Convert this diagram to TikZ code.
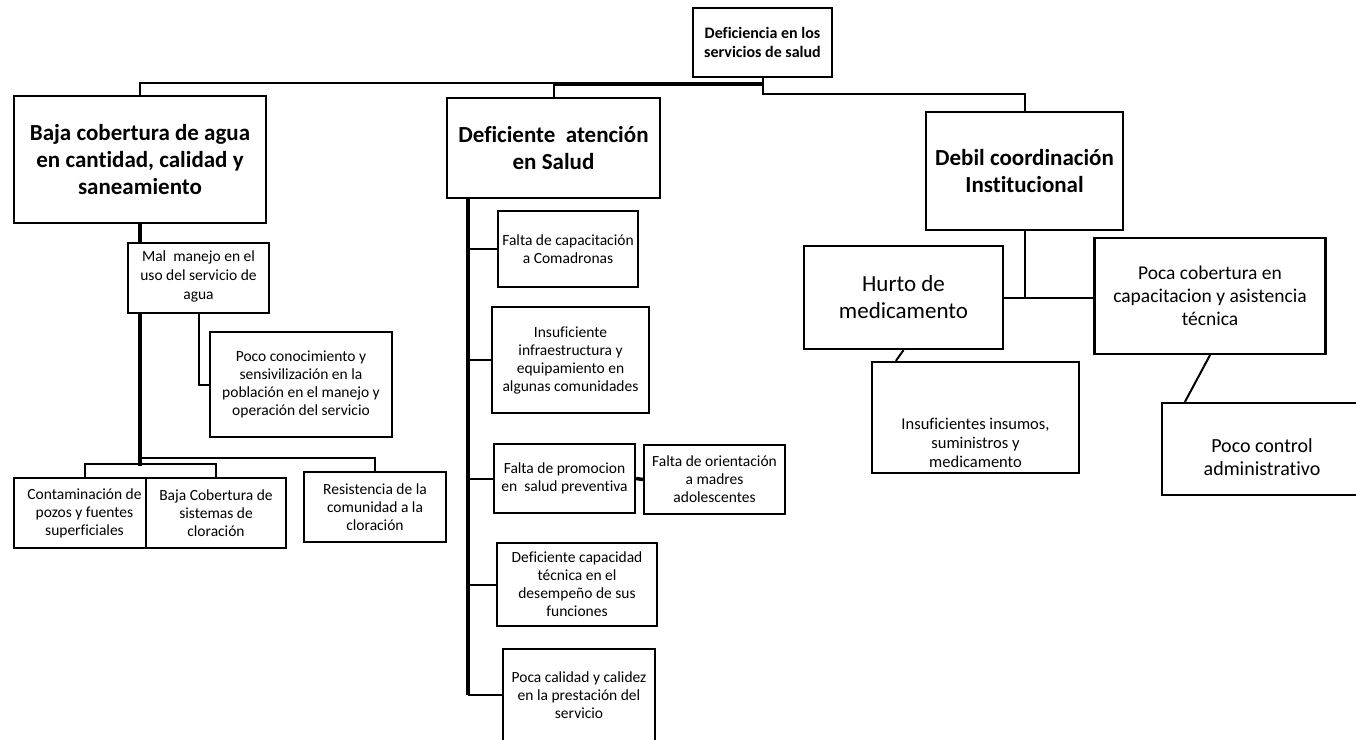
\documentclass[tikz,border=0pt]{standalone}
\usepackage{fontspec}
\setmainfont{Carlito}[Ligatures=NoCommon]
\usetikzlibrary{calc}
\begin{document}
\begin{tikzpicture}[x=1pt,y=-1pt,
  box/.style={draw, line width=2.2pt, fill=white, inner sep=0pt, align=center, font=\fontsize{15.5}{18}\selectfont},
  lbl/.style={inner sep=0pt, align=center},
  topbox/.style={box, font=\bfseries\fontsize{16}{19.5}\selectfont},
  title/.style={box, font=\bfseries\fontsize{23}{27}\selectfont},
  big/.style={box, font=\fontsize{23}{27}\selectfont},
  mid/.style={box, font=\fontsize{19.5}{23}\selectfont},
  conn/.style={line width=2pt},
  spine/.style={line width=3.5pt},
]
\useasboundingbox (0,0) rectangle (1356,739);

% top
\node[topbox, minimum width=139, minimum height=69] (top) at (762.5,42.5) {Deficiencia en los\\servicios de salud};

% level 1
\node[title, minimum width=252, minimum height=127] (baja) at (140,159.5) {Baja cobertura de agua\\en cantidad, calidad y\\saneamiento};
\node[title, minimum width=213, minimum height=100] (defi) at (553.5,148) {Deficiente\ \ atención\\en Salud};
\node[title, minimum width=197, minimum height=118] (debil) at (1024.5,171) {Debil coordinación\\Institucional};

% left branch
\node[box, minimum width=141, minimum height=70,
  label={[lbl, font=\fontsize{15.5}{19}\selectfont, yshift=2pt]center:{Mal\ \ manejo en el\\uso del servicio de\\agua}}] (mal) at (198.5,278) {};
\node[box, minimum width=182, minimum height=105] (poco) at (301,384.5) {Poco conocimiento y\\sensivilización en la\\población en el manejo y\\operación del servicio};
\node[box, minimum width=141, minimum height=70] (conta) at (84.5,513) {Contaminación de\\pozos y fuentes\\superficiales};
\node[box, minimum width=140, minimum height=70] (bajacob) at (216,513) {Baja Cobertura de\\sistemas de\\cloración};
\node[box, minimum width=142, minimum height=70] (resis) at (375,507) {Resistencia de la\\comunidad a la\\cloración};

% middle branch
\node[box, minimum width=140, minimum height=76] (falcap) at (568,249) {Falta de capacitación\\a Comadronas};
\node[box, minimum width=157, minimum height=106] (insuf) at (570.5,360) {Insuficiente\\infraestructura y\\equipamiento en\\algunas comunidades};
\node[box, minimum width=141, minimum height=69] (promo) at (564.5,478.5) {Falta de promocion\\en\ \ salud preventiva};
\node[box, minimum width=141, minimum height=69] (orient) at (714.5,479.5) {Falta de orientación\\a madres\\adolescentes};
\node[box, minimum width=160, minimum height=83] (defcap) at (577,584.5) {Deficiente capacidad\\técnica en el\\desempeño de sus\\funciones};
\node[box, minimum width=152, minimum height=92] (pocacal) at (579,695) {Poca calidad y calidez\\en la prestación del\\servicio};

% right branch
\node[big, minimum width=199, minimum height=103] (hurto) at (903.5,297.5) {Hurto de\\medicamento};
\node[mid, minimum width=231, minimum height=116] (pocacob) at (1210,296) {Poca cobertura en\\capacitacion y asistencia\\técnica};
\node[box, minimum width=207, minimum height=111,
  label={[lbl, font=\fontsize{16.5}{19}\selectfont, yshift=-25pt]center:{Insuficientes insumos,\\suministros y\\medicamento}}] (insumos) at (975.5,417.5) {};
\node[box, minimum width=200, minimum height=92,
  label={[lbl, font=\fontsize{20}{23}\selectfont, yshift=-8pt]center:{Poco control\\administrativo}}] (control) at (1262,449) {};

% connectors from top
\coordinate (tj) at ($(top.south)+(0,6)$);
\draw[conn] (top.south) -- ++(0,5) -| (baja.north);
\draw[spine] (tj) -- (tj -| defi.north);
\draw[conn] (tj -| defi.north) -- (defi.north);
\draw[conn] (top.south) -- ++(0,16) -| (debil.north);

% left connectors
\coordinate (ls) at (baja.south |- mal.south);
\draw[spine] (baja.south) -- (baja.south |- mal.north);
\draw[spine] (ls) -- ++(0,152);
\draw[conn] ($(ls)+(0,144)$) -| (resis.north);
\draw[conn] (conta.north) -- ++(0,-13) -| (bajacob.north);
\draw[conn] (mal.south) |- (poco.west);

% middle connectors
\coordinate (ms) at ($(defi.south west)+(22,0)$);
\draw[spine] (ms) -- (ms |- pocacal.west);
\foreach \n in {falcap,insuf,promo,defcap,pocacal} \draw[conn] (ms |- \n.west) -- (\n.west);
\draw[spine] (promo.east) -- (orient.west);

% right connectors
\draw[conn] (debil.south) -- (debil.south |- hurto.east);
\draw[conn] (hurto.east) -- (hurto.east -| pocacob.west);
\draw[conn] (hurto.south) -- ($(insumos.north west)+(25,0)$);
\draw[conn] (pocacob.south) -- ($(control.north west)+(24,0)$);
\end{tikzpicture}
\end{document}
